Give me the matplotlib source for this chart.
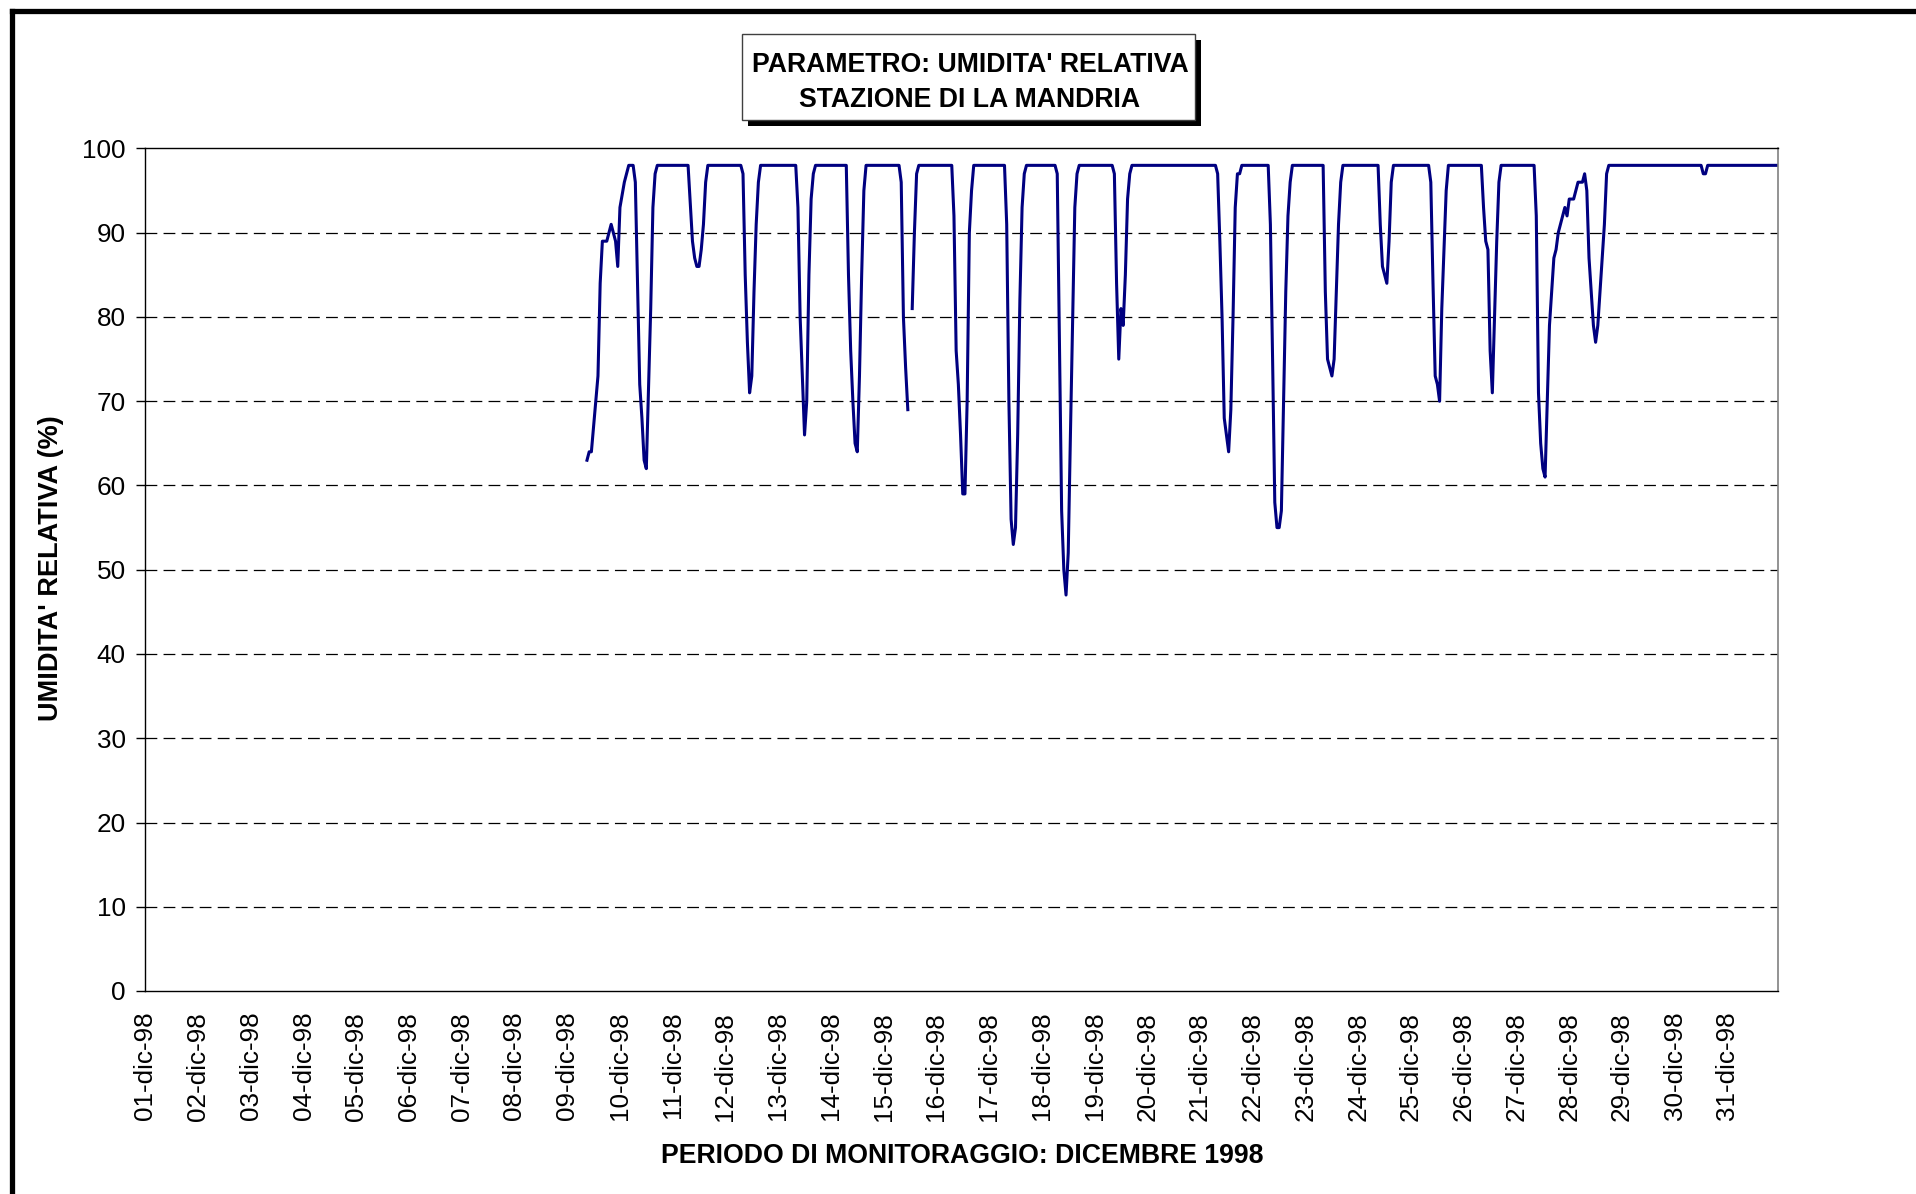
import numpy as np
import matplotlib
matplotlib.use("Agg")
import matplotlib.pyplot as plt
from matplotlib.patches import Rectangle
from matplotlib.lines import Line2D

plt.rcParams['font.family'] = ['Liberation Sans', 'DejaVu Sans']
plt.rcParams['lines.scale_dashes'] = False

# hours since 01-dic-98 00:00, relative humidity (%)
hours = [201, 202, 203, 205, 206, 207, 208, 210, 212, 214, 215, 216, 218, 220, 222, 223,
         225, 226, 227, 228, 230, 231, 232, 233, 247, 249, 250, 251, 252, 253, 254, 255, 256,
         271, 272, 273, 274, 275, 276, 277, 278, 279, 280,
         296, 297, 298, 299, 300, 301, 302, 303, 304, 305,
         319, 320, 321, 322, 323, 324, 325, 326, 327, 328,
         343, 344, 345, 346, 347, 348,
         349, 350, 351, 352, 367, 368, 369, 370, 371, 372, 373, 374, 375, 376, 377,
         391, 392, 393, 394, 395, 396, 397, 398, 399, 400, 401,
         414, 415, 416, 417, 418, 419, 420, 421, 423, 424, 425,
         440, 441, 442, 443, 444, 445, 446, 447, 448, 449,
         487, 488, 489, 490, 491, 492, 493, 494, 495, 496, 497, 498, 499,
         511, 512, 513, 514, 515, 516, 517, 518, 519, 520, 521, 522,
         536, 537, 538, 539, 540, 541, 542, 543, 544, 545,
         561, 562, 563, 564, 565, 566, 567, 568,
         584, 585, 586, 587, 588, 589, 590, 591, 592, 593,
         608, 609, 610, 611, 612, 613, 614, 615, 616, 617,
         632, 633, 634, 635, 636, 637, 638, 639, 640, 641, 642, 643, 644, 645, 646, 647,
         648, 649, 650, 651, 652, 653, 654, 655, 656, 657, 658, 659, 660, 661, 662, 663,
         664, 665, 666, 708, 709, 710, 711, 743]
umidita = [63, 64, 64, 70, 73, 84, 89, 89, 91, 89, 86, 93, 96, 98, 98, 96,
           72, 68, 63, 62, 81, 93, 97, 98, 98, 89, 87, 86, 86, 88, 91, 96, 98,
           98, 97, 85, 77, 71, 73, 83, 91, 96, 98,
           98, 93, 80, 73, 66, 70, 85, 94, 97, 98,
           98, 85, 76, 70, 65, 64, 73, 85, 95, 98,
           98, 96, 80, 74, 69, np.nan,
           81, 90, 97, 98, 98, 92, 76, 72, 66, 59, 59, 70, 90, 95, 98,
           98, 91, 70, 56, 53, 55, 66, 82, 93, 97, 98,
           98, 97, 77, 57, 50, 47, 52, 66, 93, 97, 98,
           98, 97, 84, 75, 81, 79, 85, 94, 97, 98,
           98, 97, 89, 80, 68, 66, 64, 69, 80, 93, 97, 97, 98,
           98, 91, 75, 58, 55, 55, 57, 70, 83, 92, 96, 98,
           98, 83, 75, 74, 73, 75, 83, 91, 96, 98,
           98, 91, 86, 85, 84, 89, 96, 98,
           98, 96, 84, 73, 72, 70, 81, 88, 95, 98,
           98, 93, 89, 88, 76, 71, 80, 89, 96, 98,
           98, 92, 71, 65, 62, 61, 70, 79, 83, 87, 88, 90, 91, 92, 93, 92,
           94, 94, 94, 95, 96, 96, 96, 97, 95, 87, 83, 79, 77, 79, 83, 87,
           91, 97, 98, 98, 97, 97, 98, 98]

day_labels = [f"{d:02d}-dic-98" for d in range(1, 32)]
day_ticks = [24 * i for i in range(31)]

W, H = 1916, 1194
fig = plt.figure(figsize=(W / 100, H / 100), dpi=100)
ax = fig.add_axes([145.3 / W, 1 - 991 / H, (1778 - 145.3) / W, (991 - 148.5) / H])

ax.plot(hours, umidita, color="#000080", lw=2.2, solid_joinstyle="round")

ax.set_xlim(0, 743)
ax.set_ylim(0, 100)
ax.set_yticks(range(0, 101, 10))
ax.set_xticks(day_ticks)
ax.set_xticklabels(day_labels, rotation=90, va="top", ha="center")
ax.tick_params(axis="x", length=0, pad=15, labelsize=18.8)
ax.tick_params(axis="y", length=6.2, width=1.0, pad=8, labelsize=18.8, direction="out")

for y in range(10, 100, 10):
    ax.axhline(y, color="black", lw=0.9, dashes=(8.5, 4.5), zorder=0)

for side in ("top", "left", "bottom"):
    ax.spines[side].set_color("black")
    ax.spines[side].set_linewidth(1.0)
ax.spines["right"].set_color("#808080")
ax.spines["right"].set_linewidth(1.2)

fig.text(51 / W, 1 - 568 / H, "UMIDITA' RELATIVA (%)", rotation=90, fontsize=19.5,
         fontweight="bold", ha="center", va="center")
fig.text(962 / W, 1 - 1156 / H, "PERIODO DI MONITORAGGIO: DICEMBRE 1998", fontsize=19.2,
         fontweight="bold", ha="center", va="center")

# title box with shadow
bx0, bx1, by0, by1 = 742, 1195, 34, 120
fig.patches.append(Rectangle(((bx0 + 6) / W, 1 - (by1 + 6) / H), (bx1 - bx0) / W, (by1 - by0) / H,
                             transform=fig.transFigure, facecolor="black", edgecolor="none"))
fig.patches.append(Rectangle((bx0 / W, 1 - by1 / H), (bx1 - bx0) / W, (by1 - by0) / H,
                             transform=fig.transFigure, facecolor="white", edgecolor="#404040", lw=1.0))
fig.text(970 / W, 1 - 65.5 / H, "PARAMETRO: UMIDITA' RELATIVA", fontsize=19.2,
         fontweight="bold", ha="center", va="center")
fig.text(970 / W, 1 - 100 / H, "STAZIONE DI LA MANDRIA", fontsize=19.2,
         fontweight="bold", ha="center", va="center")

# outer frame (top and left edges visible)
fig.lines.append(Line2D([11.7 / W, 1.0], [1 - 10.7 / H, 1 - 10.7 / H], transform=fig.transFigure,
                        color="black", lw=3.8, solid_capstyle="projecting"))
fig.lines.append(Line2D([11.7 / W, 11.7 / W], [1 - 10.7 / H, 0.0], transform=fig.transFigure,
                        color="black", lw=3.8, solid_capstyle="projecting"))

fig.savefig("out.png", dpi=100)
